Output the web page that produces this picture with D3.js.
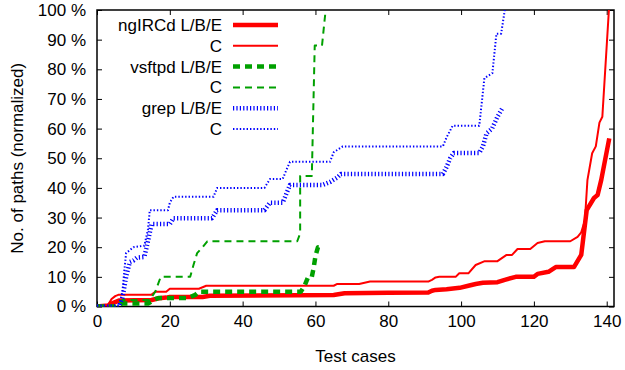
<!DOCTYPE html>
<html lang="en">
<head>
<meta charset="utf-8">
<title>Paths per test case</title>
<script type="text/javascript" src="https://d3js.org/d3.v7.min.js"></script>
<style>
    body { margin: 0; background: white; }
    text { font-family: "Liberation Sans", Arial, sans-serif; font-size: 17px; fill: #000; }
</style>
</head>
<body>
    <div id="container"></div>

    <script type="text/javascript">

    // data, [test case, % of paths]
    var ngircdLBE = [[0,0],[3,0.3],[4,1],[5,1.5],[6,2],[15,2.2],[17,2.8],[19,3],[20,3.2],[29,3.2],[31,3.6],[55,3.8],[65,3.9],[68,4.5],[80,4.6],[91,4.7],[92,5.3],[93,5.6],[96,5.8],[99.6,6.3],[102,7],[104,7.6],[106,8],[110,8.2],[112,9],[115,10],[120,10],[121,11],[124,11.7],[126,13.3],[131,13.3],[133,17.4],[134.5,32.5],[136.5,36.6],[137.5,37.6],[138.5,42.7],[140.7,56.7]];
    var ngircdC = [[0,0.5],[3,0.5],[4,2.5],[5,3.5],[6,4],[15,4],[16,5],[19,5],[20,6],[28,6],[30,7],[65,7],[66,7.6],[72,7.6],[75,8.4],[91,8.4],[92,9],[93,9.8],[94,10],[98.5,10],[99.5,11.2],[102,11.2],[104,14],[106.5,15.3],[110,15.3],[112.5,17.4],[114,17.4],[115.5,19.4],[119,19.4],[121,21.4],[123,22],[130,22],[132,23.5],[133,25],[134,29],[134.7,42.6],[136,51.7],[137,54],[138,62],[138.8,64],[140.6,100]];
    var vsftpdLBE = [[0,0],[5,0],[7,1],[14,1],[16,2.5],[17,2.9],[25,2.9],[27,3.9],[28,5],[56,5],[57,7],[58,10],[59,10],[59.5,13],[60,17],[60.7,20],[61.7,20]];
    var vsftpdC = [[0,0],[5,0],[7,2.2],[14.5,2.2],[16,5],[17.5,10],[25.6,10],[26.5,14],[27.5,18],[29,20],[30.3,22],[55,22],[55.8,24.6],[55.8,44],[59,44],[59.8,88],[61.8,88],[62.8,100]];
    var grepLBE = [[0,0],[6,0],[7,3],[8,10],[9,15],[10,15.5],[11,16.5],[13,16.7],[14,22],[15,27.8],[20,27.8],[21,29.8],[31.6,29.8],[33,32.5],[46,32.5],[47.5,35],[51,35],[52,38],[53,41],[62,41],[64,42],[66,43.5],[67,44.7],[95,44.7],[96,47],[97,50],[98,51.8],[105,51.8],[106,54],[107,58.4],[108.5,60],[110,64],[111.4,67]];
    var grepC = [[0,0],[6,0],[7,5],[7.5,12],[8,18],[9,19],[10,20],[13,20.5],[14,26],[14.5,32.5],[19.5,32.5],[20,35],[21,37],[32,37],[33,40],[46,40],[47.5,43],[51,43],[52,46],[53,48.8],[64,48.8],[65,52],[67.5,54],[95,54],[96,57],[97.7,61],[105,61],[106.4,77],[108.6,78.7],[109.7,92],[111,92],[112,100]];

    var seriesNames = ["ngIRCd L/B/E", "C", "vsftpd L/B/E", "C", "grep L/B/E", "C"];
    var seriesData = [ngircdLBE, ngircdC, vsftpdLBE, vsftpdC, grepLBE, grepC];
    var xTicks = [0, 20, 40, 60, 80, 100, 120, 140];
    var yTicks = [0, 10, 20, 30, 40, 50, 60, 70, 80, 90, 100];

    // line styles (gnuplot-ish)
    var styles = [
        {color: "#ff0000", width: 4.5, dash: null},
        {color: "#ff0000", width: 2, dash: null},
        {color: "#00a000", width: 4.5, dash: "7,5"},
        {color: "#00a000", width: 2, dash: "7,5"},
        {color: "#0000ff", width: 4.5, dash: "1.2,2.2"},
        {color: "#0000ff", width: 2, dash: "1.4,2"}
    ];

    //layout
    var w = 625;
    var h = 370;
    var pLeft = 97, pRight = 614, pTop = 10, pBottom = 306.5;

    var svg = d3.select("div#container").append("svg")
        .attr("width", w)
        .attr("height", h);

    var x = d3.scaleLinear().domain([0, 142]).range([pLeft, pRight]);
    var y = d3.scaleLinear().domain([0, 100]).range([pBottom, pTop]);

    svg.append("clipPath").attr("id", "clip")
        .append("rect")
        .attr("x", pLeft).attr("y", pTop)
        .attr("width", pRight - pLeft).attr("height", pBottom - pTop);

    // axes, ticks pointing inward
    svg.append("g")
        .attr("transform", "translate(0," + pBottom + ")")
        .call(d3.axisBottom(x).tickValues(xTicks).tickSize(-5).tickPadding(8))
        .call(function(g) { g.select(".domain").remove(); });
    svg.append("g")
        .attr("transform", "translate(0," + pTop + ")")
        .call(d3.axisTop(x).tickValues(xTicks).tickSize(-5).tickFormat(""))
        .call(function(g) { g.select(".domain").remove(); });
    svg.append("g")
        .attr("transform", "translate(" + pLeft + ",0)")
        .call(d3.axisLeft(y).tickValues(yTicks).tickSize(-5).tickPadding(11).tickFormat(function(d) { return d + " %"; }))
        .call(function(g) { g.select(".domain").remove(); });
    svg.append("g")
        .attr("transform", "translate(" + pRight + ",0)")
        .call(d3.axisRight(y).tickValues(yTicks).tickSize(-5).tickFormat(""))
        .call(function(g) { g.select(".domain").remove(); });

    svg.selectAll(".tick line").attr("stroke", "#000").attr("stroke-width", 1);
    svg.selectAll(".tick text").style("font-size", "17px").attr("fill", "#000");

    // frame
    svg.append("rect")
        .attr("x", pLeft).attr("y", pTop)
        .attr("width", pRight - pLeft).attr("height", pBottom - pTop)
        .attr("fill", "none")
        .attr("stroke", "#000")
        .attr("stroke-width", 1.5);

    // lines
    var line = d3.line()
        .x(function(d) { return x(d[0]); })
        .y(function(d) { return y(d[1]); });

    var plot = svg.append("g").attr("clip-path", "url(#clip)");
    seriesData.forEach(function(data, i) {
        plot.append("path")
            .datum(data)
            .attr("d", line)
            .attr("fill", "none")
            .attr("stroke", styles[i].color)
            .attr("stroke-width", styles[i].width)
            .attr("stroke-dasharray", styles[i].dash)
            .attr("stroke-linejoin", "round");
    });

    // legend
    var legend = svg.append("g");
    seriesNames.forEach(function(name, i) {
        var ly = 25 + i * 20.8;
        legend.append("text")
            .attr("x", 222)
            .attr("y", ly)
            .attr("dy", "0.35em")
            .attr("text-anchor", "end")
            .text(name);
        legend.append("line")
            .attr("x1", 233).attr("x2", 278)
            .attr("y1", ly).attr("y2", ly)
            .attr("stroke", styles[i].color)
            .attr("stroke-width", styles[i].width)
            .attr("stroke-dasharray", styles[i].dash);
    });

    // axis titles
    svg.append("text")
        .attr("x", (pLeft + pRight) / 2)
        .attr("y", 362)
        .attr("text-anchor", "middle")
        .text("Test cases");
    svg.append("text")
        .attr("transform", "translate(23," + (pTop + pBottom) / 2 + ")rotate(-90)")
        .attr("text-anchor", "middle")
        .text("No. of paths (normalized)");

    </script>
</body>
</html>
